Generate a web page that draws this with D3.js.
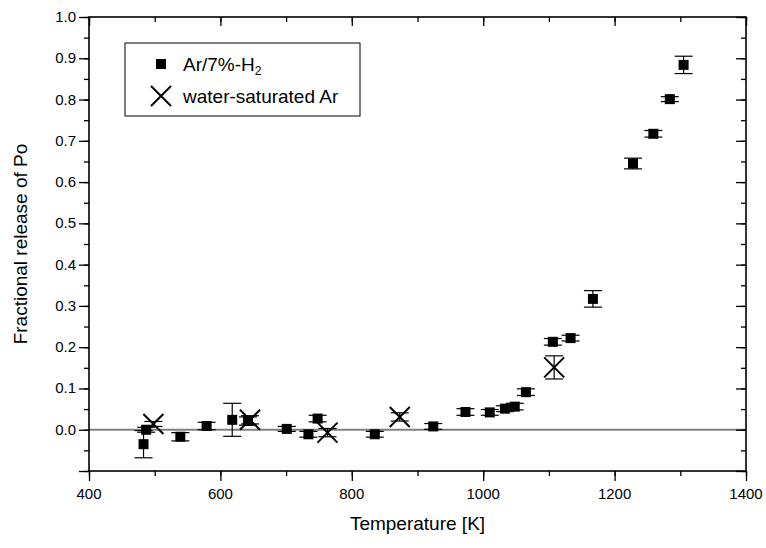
<!DOCTYPE html>
<html><head><meta charset="utf-8">
<script src="https://cdn.jsdelivr.net/npm/d3@7"></script>
<style>body{margin:0;background:#fff}svg{display:block}text{font-family:"Liberation Sans",Arial,sans-serif}</style>
</head><body><svg id="c" width="766" height="548"></svg>
<script>
// Ar/7%-H2 series: temperature [K], fractional release, error
const h2Temp = [483,487,539,579,618,642,701,734,748,835,924,973,1010,1033,1048,1065,1106,1133,1167,1228,1259,1284,1305];
const h2Val  = [-0.035,0.0,-0.017,0.009,0.024,0.021,0.002,-0.011,0.027,-0.011,0.008,0.043,0.042,0.051,0.056,0.091,0.213,0.222,0.317,0.645,0.717,0.801,0.884];
const h2Err  = [0.033,0.006,0.010,0.009,0.040,0.010,0.006,0.007,0.008,0.007,0.007,0.008,0.007,0.007,0.008,0.008,0.008,0.007,0.020,0.013,0.008,0.006,0.021];
// water-saturated Ar series
const wTemp = [498,645,763,873,1108];
const wVal  = [0.014,0.024,-0.007,0.031,0.151];
const wErr  = [0.006,0.010,0.010,0.010,0.028];
const xTicks = [400,600,800,1000,1200,1400];
const yTicks = [0.0,0.1,0.2,0.3,0.4,0.5,0.6,0.7,0.8,0.9,1.0];

const svg = d3.select("#c");
const L=89,R=746,T=17,B=471;
const x = d3.scaleLinear().domain([400,1400]).range([L,R]);
const y = d3.scaleLinear().domain([-0.1,1.0]).range([B,T]);

// zero line
svg.append("line").attr("x1",L).attr("x2",R).attr("y1",y(0)).attr("y2",y(0))
  .attr("stroke","#808080").attr("stroke-width",2);

const xMinor = d3.range(400,1401,100);
const yMinor = d3.range(-0.1,1.001,0.05).map(v=>+v.toFixed(2));
const yMajor = [-0.1].concat(yTicks);

function ticks(gen, tr, vals, size){
  const g = svg.append("g").attr("transform",tr)
    .call(gen.tickValues(vals).tickSize(size).tickSizeOuter(0).tickFormat(""));
  g.select(".domain").remove();
  g.selectAll("line").attr("stroke","#000").attr("stroke-width",1.3);
  return g;
}
// bottom (outward)
ticks(d3.axisBottom(x), `translate(0,${B})`, xTicks, 10);
ticks(d3.axisBottom(x), `translate(0,${B})`, xMinor, 5);
// left (outward)
ticks(d3.axisLeft(y), `translate(${L},0)`, yMajor, 10);
ticks(d3.axisLeft(y), `translate(${L},0)`, yMinor, 5);
// top (inward)
ticks(d3.axisBottom(x), `translate(0,${T})`, xTicks, 9);
ticks(d3.axisBottom(x), `translate(0,${T})`, xMinor, 5);
// right (inward)
ticks(d3.axisLeft(y), `translate(${R},0)`, yMajor, 10);
ticks(d3.axisLeft(y), `translate(${R},0)`, yMinor, 5);

// tick labels
svg.append("g").selectAll("text").data(xTicks).join("text")
  .attr("x",d=>x(d)).attr("y",B+28).attr("text-anchor","middle").attr("font-size",15)
  .text(d=>d3.format("d")(d));
svg.append("g").selectAll("text").data(yTicks).join("text")
  .attr("x",L-13).attr("y",d=>y(d)+5).attr("text-anchor","end").attr("font-size",15)
  .text(d=>d3.format(".1f")(d));

// frame
svg.append("rect").attr("x",L).attr("y",T).attr("width",R-L).attr("height",B-T)
  .attr("fill","none").attr("stroke","#000").attr("stroke-width",1.6);

// error bars
function errBars(tx, vals, errs, cap){
  const g = svg.append("g").attr("stroke","#000").attr("stroke-width",1.2);
  tx.forEach((t,i)=>{
    const cx=x(t), y1=y(vals[i]+errs[i]), y2=y(vals[i]-errs[i]);
    g.append("line").attr("x1",cx).attr("x2",cx).attr("y1",y1).attr("y2",y2);
    g.append("line").attr("x1",cx-cap).attr("x2",cx+cap).attr("y1",y1).attr("y2",y1);
    g.append("line").attr("x1",cx-cap).attr("x2",cx+cap).attr("y1",y2).attr("y2",y2);
  });
}
errBars(h2Temp,h2Val,h2Err,9);
errBars(wTemp,wVal,wErr,9);

// squares
svg.append("g").selectAll("rect").data(h2Temp.map((t,i)=>[t,h2Val[i]])).join("rect")
  .attr("x",d=>x(d[0])-5).attr("y",d=>y(d[1])-5).attr("width",10).attr("height",10).attr("fill","#000");
// crosses
const cs=10;
svg.append("g").selectAll("path").data(wTemp.map((t,i)=>[t,wVal[i]])).join("path")
  .attr("d",d=>{const cx=x(d[0]),cy=y(d[1]);return `M${cx-cs},${cy-cs}L${cx+cs},${cy+cs}M${cx-cs},${cy+cs}L${cx+cs},${cy-cs}`;})
  .attr("stroke","#000").attr("stroke-width",2).attr("fill","none");

// legend
svg.append("rect").attr("x",125).attr("y",43).attr("width",235).attr("height",73)
  .attr("fill","#fff").attr("stroke","#000").attr("stroke-width",1);
svg.append("rect").attr("x",156).attr("y",59).attr("width",10).attr("height",10).attr("fill","#000");
svg.append("path").attr("d",`M${161-cs},${96-cs}L${161+cs},${96+cs}M${161-cs},${96+cs}L${161+cs},${96-cs}`)
  .attr("stroke","#000").attr("stroke-width",2);
const t1 = svg.append("text").attr("x",183).attr("y",71).attr("font-size",19);
t1.append("tspan").text("Ar/7%-H");
t1.append("tspan").text("2").attr("font-size",12).attr("dy",4);
svg.append("text").attr("x",183).attr("y",103).attr("font-size",19).text("water-saturated Ar");

// axis titles
svg.append("text").attr("x",(L+R)/2).attr("y",530).attr("text-anchor","middle").attr("font-size",19).text("Temperature [K]");
svg.append("text").attr("transform",`translate(27,${(T+B)/2}) rotate(-90)`).attr("text-anchor","middle").attr("font-size",19).text("Fractional release of Po");
</script></body></html>
